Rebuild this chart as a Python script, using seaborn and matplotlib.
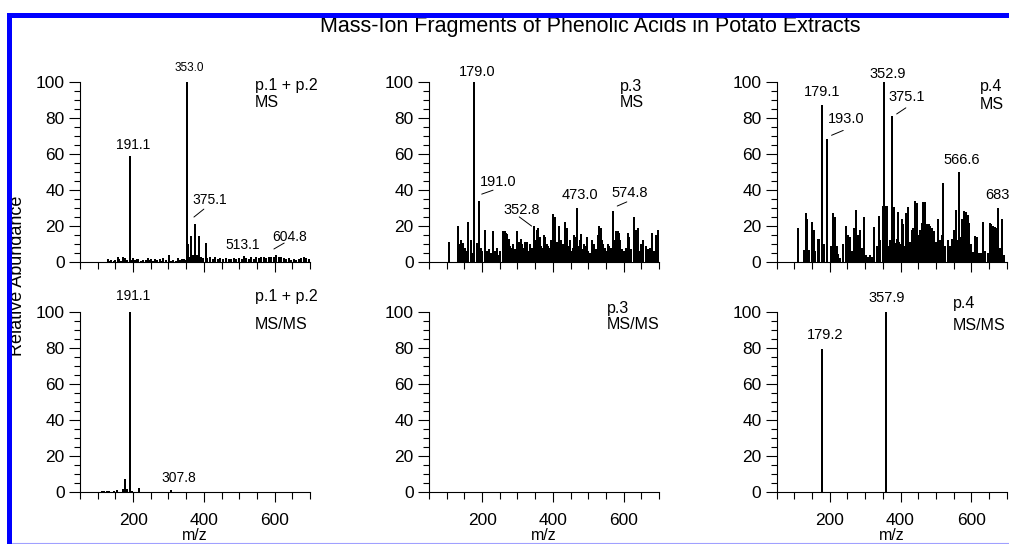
import matplotlib as mpl
mpl.use("Agg")
import matplotlib.pyplot as plt
import seaborn as sns
import pandas as pd
from matplotlib.ticker import MultipleLocator, FixedLocator
from matplotlib.patches import Rectangle
from matplotlib.lines import Line2D

# spectra as (m/z, relative abundance) sticks
ms_p12 = [
    (128, 1.5), (133, 0.8), (139, 1), (145, 0.6), (150, 1), (156, 2.5), (161, 1.5), (166, 0.8),
    (171, 2.5), (177, 2), (184, 1), (191.1, 59), (195, 1.2), (199, 2), (205, 1), (210, 1.5),
    (215, 1.5), (221, 0.8), (229, 1), (236, 1.2), (243, 2), (248, 1), (252, 1.5), (257, 0.8),
    (262, 1.5), (268, 1), (276, 1.5), (280, 0.8), (285, 2), (293, 1.2), (302, 4), (308, 0.8),
    (314, 1), (320, 0.8), (328, 2), (333, 1), (337, 1.5), (344, 1.5), (349, 1), (353.0, 100),
    (356, 10), (360, 3), (364, 14.5), (370, 4), (375.1, 21), (380, 4), (386, 14.5), (392, 3),
    (398, 2), (405, 10.7), (410, 2), (418, 2.5), (425, 1.5), (432, 3), (440, 1.5), (447, 2),
    (455, 1.5), (462, 2), (470, 1.5), (478, 1.5), (485, 2), (492, 1.5), (500, 2), (507, 1.5),
    (513.1, 3.5), (520, 2), (527, 1.5), (534, 2.5), (541, 1.5), (548, 2.5), (555, 2), (562, 2.5),
    (570, 3), (577, 2), (584, 3), (591, 2.5), (598, 3), (604.8, 4), (612, 3), (619, 2.5),
    (626, 2), (633, 1.5), (640, 2), (647, 1), (654, 1.5), (661, 1), (668, 1.5), (675, 2),
    (682, 2.5), (689, 2), (696, 1.5),
]
msms_p12 = [
    (111, 0.5), (118, 0.6), (125, 0.5), (133, 0.5), (145, 0.5), (155, 1), (171, 1.5),
    (177, 7), (182, 1.5), (191.1, 100), (197, 0.5), (217, 2), (307.8, 1),
]
ms_p3 = [
    (107, 11), (131, 20), (136, 10), (140, 12), (144, 7), (147, 10.7), (152, 8), (157, 6),
    (161, 22), (168, 12), (173, 5), (176, 100), (185, 10.7), (191.0, 34), (196, 8), (201, 6),
    (208, 18), (214, 6), (220, 7), (225, 5), (230, 17), (236, 6), (242, 8), (248, 4),
    (252, 6), (258, 17), (262, 12), (265, 17), (268, 16), (271, 15.6), (275, 13), (278, 9),
    (283, 8), (288, 10), (292, 7), (298, 17), (302, 9), (305, 11), (309, 13), (313, 10),
    (316, 8), (320, 11), (324, 9), (328, 11), (332, 6), (336, 10), (340, 8), (347, 20),
    (351, 12), (355, 18), (359, 19), (363, 14), (367, 9), (371, 8), (375, 15), (379, 14),
    (383, 10), (387, 9), (392, 8), (396, 12), (400, 26.7), (405, 25), (409, 10), (412, 11),
    (418, 20), (423, 12), (428, 10), (432, 8), (435, 22), (440, 19), (444, 9), (448, 12),
    (452, 6), (457, 8), (460, 15), (465, 14), (469, 30), (472, 9), (476, 12), (480, 15.6),
    (484, 7), (488, 10), (493, 9), (497, 14), (500, 6), (505, 5), (510, 12), (515, 10),
    (518, 6), (522, 7), (527, 15), (531, 20), (535, 19), (539, 12), (542, 10), (546, 8),
    (550, 6), (555, 10), (560, 9), (565, 8), (569, 28), (574, 12), (578, 17), (583, 17),
    (587, 16), (591, 12), (596, 7), (601, 6), (606, 8), (612, 16), (616, 14), (622, 7),
    (628, 25), (632, 11), (636, 18), (640, 19), (644, 6), (650, 10), (656, 12), (662, 9),
    (668, 7), (674, 8), (680, 16), (686, 6), (692, 15), (697, 18), (700, 9),
]
msms_p3 = []
ms_p4 = [
    (109, 18.6), (128, 6.6), (132, 27), (137, 24), (142, 6.6), (149, 22), (154, 18), (158, 6),
    (166, 12.5), (170, 12.5), (179.1, 87), (184, 10), (193.0, 68), (203, 9), (208, 27), (215, 25),
    (220, 9), (224, 4.4), (230, 2), (238, 10), (245, 20), (251, 15), (257, 14), (262, 6),
    (268, 18.6), (273, 29), (279, 15), (285, 18), (290, 8), (296, 24.7), (301, 4), (307, 3),
    (314, 4), (320, 3), (326, 19.5), (333, 9), (339, 25.4), (343, 12), (352.9, 100), (350, 31),
    (355, 31), (357, 10), (361, 31), (365, 9), (367, 4), (370, 12), (375.1, 81), (377, 42.5),
    (382, 30.6), (385, 8), (387, 10.7), (389, 13), (392, 27.8), (395, 10), (397, 11), (400, 10),
    (403, 24), (408, 21), (411, 9), (414, 27), (417, 9), (420, 30.6), (423, 11), (427, 11),
    (431, 18), (433, 10), (436, 18.6), (439, 9), (441, 34), (446, 32.8), (450, 15), (453, 12),
    (456, 18), (460, 21.7), (464, 33), (467, 10), (469, 33), (471, 11), (474, 21), (477, 9),
    (479, 21), (482, 12), (484, 20), (487, 10), (490, 18.6), (493, 8), (495, 17), (497, 7),
    (500, 11), (503, 9), (507, 24), (511, 12), (513, 7), (516, 15), (521, 43.8), (527, 9),
    (533, 12), (539, 9), (544, 13), (548, 8), (551, 17.7), (556, 28.7), (560, 12), (566.6, 50),
    (565, 25), (570, 14), (575, 24), (580, 28.4), (585, 27.8), (590, 26), (594, 21.4), (599, 10),
    (604, 5.7), (610, 14.4), (615, 14), (622, 5), (627, 5), (634, 22), (639, 6), (648, 5),
    (653, 21.4), (657, 21), (662, 20), (667, 19.5), (672, 18.6), (676, 29.7), (682, 8),
    (688, 24), (692, 4),
]
msms_p4 = [(179.2, 79), (357.9, 100)]

# peak labels: (text, m/z, abundance where the label sits)
labels_ms_p12 = [("191.1", 200, 64.6), ("375.1", 417, 34.3), ("513.1", 511, 9.4), ("604.8", 643, 13.8)]
labels_msms_p12 = [("191.1", 200, 108.5), ("307.8", 330, 7.6)]
labels_ms_p3 = [("179.0", 185, 105), ("191.0", 246, 44.4), ("352.8", 312, 28.7),
                ("473.0", 477, 37), ("574.8", 616, 38.3)]
labels_ms_p4 = [("179.1", 177, 94), ("193.0", 245, 79.4), ("352.9", 365, 104),
                ("375.1", 417, 91.3), ("566.6", 573, 56.4)]
labels_msms_p4 = [("179.2", 188, 87), ("357.9", 362, 107.6)]

# leader lines from label to peak
leaders_ms_p12 = [((372, 24.9), (400, 29.3)), ((598, 7.2), (627, 10.5))]
leaders_ms_p3 = [((199, 37.6), (231, 39.8)), ((305, 25), (340, 19.9)), ((582, 31), (609, 33.3))]
leaders_ms_p4 = [((205, 70.2), (238, 72.9)), ((389, 82), (415, 85.4))]

sns.set_theme(style="ticks", rc={
    'axes.edgecolor': 'black', 'xtick.color': 'black', 'ytick.color': 'black',
    'text.color': 'black', 'axes.labelcolor': 'black', 'axes.linewidth': 0.8,
})
plt.rcParams['font.family'] = ['Liberation Sans', 'DejaVu Sans']

W, H = 1009, 544
fig = plt.figure(figsize=(W / 100, H / 100), dpi=100)
fig.patch.set_facecolor('white')

lefts = [80, 429, 776.7]
bottoms = [282, 52]  # pixels from bottom: top row, bottom row
aw, ah = 230, 180.5

name_text = {
    (0, 0): ("p.1 + p.2", "MS"), (1, 0): ("p.3", "MS"), (2, 0): ("p.4", "MS"),
    (0, 1): ("p.1 + p.2", "MS/MS"), (1, 1): ("p.3", "MS/MS"), (2, 1): ("p.4", "MS/MS"),
}


def panel(col, row, spec, name, labels=(), leaders=(), lab_size=10.5):
    ax = fig.add_axes([lefts[col] / W, bottoms[row] / H, aw / W, ah / H])
    if spec:
        df = pd.DataFrame(spec, columns=['mz', 'ab'])
        ax.vlines(df['mz'], 0, df['ab'], color='black', lw=1.1, antialiased=False)
    ax.set_xlim(50, 700)
    ax.set_ylim(0, 100)
    sns.despine(ax=ax)
    ax.xaxis.set_major_locator(FixedLocator([200, 400, 600]))
    ax.xaxis.set_minor_locator(MultipleLocator(50))
    ax.yaxis.set_major_locator(MultipleLocator(20))
    ax.yaxis.set_minor_locator(MultipleLocator(5))
    ax.tick_params(axis='x', which='major', length=7, width=0.8, pad=8, labelsize=12.5)
    ax.tick_params(axis='x', which='minor', length=5, width=0.8)
    ax.tick_params(axis='y', which='major', length=8, width=0.8, pad=3, labelsize=12.5)
    ax.tick_params(axis='y', which='minor', length=4, width=0.8)
    ax.set_facecolor('none')
    if row == 0:
        ax.tick_params(axis='x', labelbottom=False)
    else:
        ax.set_xlabel('m/z', fontsize=11.5, labelpad=0)
    nx, ny1, ny2 = name
    ax.text(nx, ny1, name_text[(col, row)][0], fontsize=11.5, ha='left', va='center')
    ax.text(nx, ny2, name_text[(col, row)][1], fontsize=11.5, ha='left', va='center')
    for t, x, y in labels:
        ax.text(x, y, t, fontsize=lab_size, ha='center', va='center')
    for (x1, y1), (x2, y2) in leaders:
        ax.plot([x1, x2], [y1, y2], color='black', lw=0.7, clip_on=False)
    return ax


ax1 = panel(0, 0, ms_p12, (545, 97.8, 88.4), labels_ms_p12, leaders_ms_p12, lab_size=10)
ax1.text(358, 107.7, "353.0", fontsize=8.5, ha='center', va='center')
panel(1, 0, ms_p3, (590, 97.2, 88.4), labels_ms_p3, leaders_ms_p3)
ax3 = panel(2, 0, ms_p4, (625, 97.2, 87.3), labels_ms_p4, leaders_ms_p4)
ax3.text(639, 37, "683", fontsize=10.5, ha='left', va='center')
panel(0, 1, msms_p12, (545, 108.3, 92.8), labels_msms_p12, lab_size=10)
panel(1, 1, msms_p3, (553, 101.7, 92.8))
panel(2, 1, msms_p4, (548, 104.4, 92.2), labels_msms_p4)

fig.text(590 / W, 1 - 32 / H, "Mass-Ion Fragments of Phenolic Acids in Potato Extracts",
         fontsize=15.5, ha='center', va='baseline')
fig.text(18 / W, 1 - 276 / H, "Relative Abundance", fontsize=13, rotation=90,
         ha='center', va='center')

# blue frame from the original screenshot
fig.patches.append(Rectangle((7 / W, 0), 5 / W, (H - 13) / H, transform=fig.transFigure,
                             color='#0000ff', lw=0, zorder=10))
fig.patches.append(Rectangle((7 / W, (H - 18) / H), 1, 5 / H, transform=fig.transFigure,
                             color='#0000ff', lw=0, zorder=10))
fig.lines.append(Line2D([12 / W, 1], [1.5 / H, 1.5 / H], transform=fig.transFigure,
                        color='#a0a0ff', lw=0.8))

fig.savefig('out.png', dpi=100)
